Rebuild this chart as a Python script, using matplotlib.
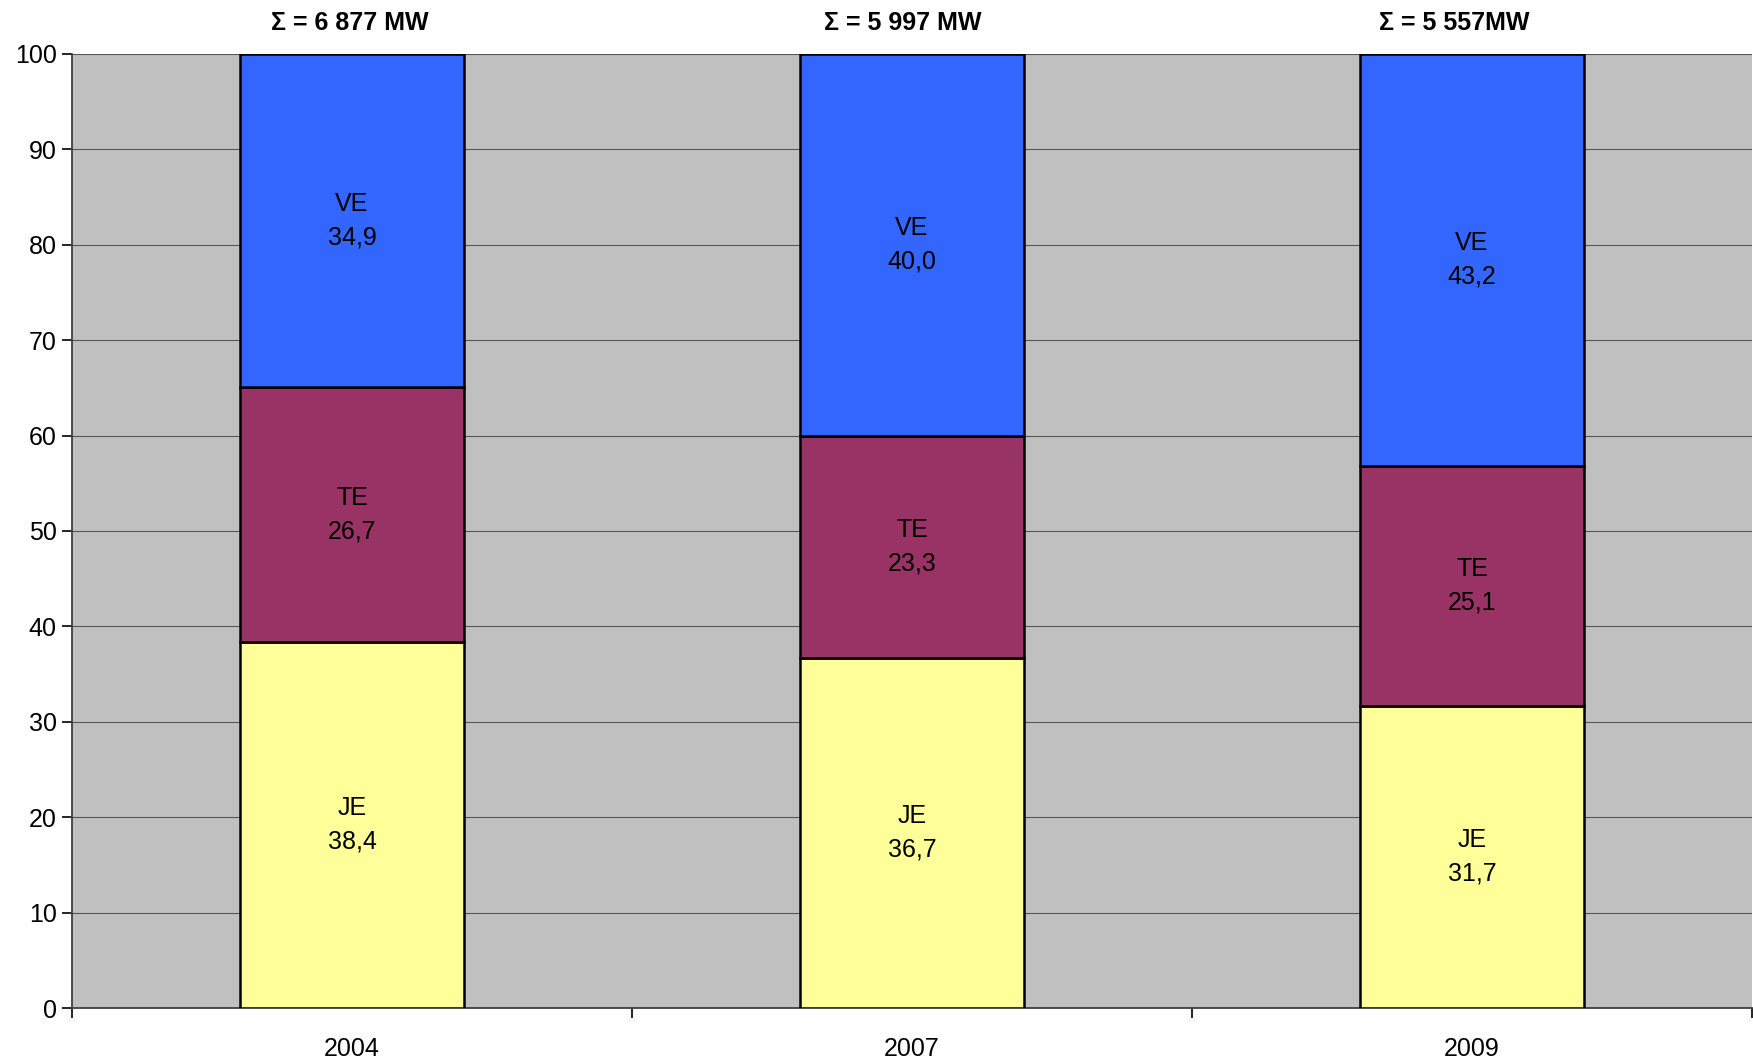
import numpy as np
import matplotlib.pyplot as plt

plt.rcParams['font.family'] = ['Liberation Sans', 'DejaVu Sans']

# shares of installed capacity, %
years = ['2004', '2007', '2009']
je = [38.4, 36.7, 31.7]
te = [26.7, 23.3, 25.1]
ve = [34.9, 40.0, 43.2]
totals = ['Σ = 6 877 MW', 'Σ = 5 997 MW', 'Σ = 5 557MW']

series = [('JE', je, '#FFFF99'), ('TE', te, '#993366'), ('VE', ve, '#3366FF')]

fig = plt.figure(figsize=(17.53, 10.61), dpi=100)
ax = fig.add_axes([72 / 1753, 53 / 1061, 1680 / 1753, 954 / 1061])
ax.set_facecolor('#C0C0C0')

x = np.arange(len(years)) + 0.5
bottom = np.zeros(len(years))
for name, vals, col in series:
    vals = np.array(vals)
    ax.bar(x, vals, 0.4, bottom=bottom, color=col, edgecolor='black',
           linewidth=1.8, zorder=3)
    for xi, b, v in zip(x, bottom, vals):
        ax.text(xi, b + v / 2, '%s\n%s' % (name, ('%.1f' % v).replace('.', ',')),
                ha='center', va='center', fontsize=18, linespacing=1.5, zorder=4)
    bottom += vals

# totals sit a little left of the bar centres
shifts = [-1.5, -6.5, -13]
for xi, t, dx in zip(x, totals, shifts):
    ax.annotate(t, (xi, 1.0), xycoords=('data', 'axes fraction'),
                xytext=(dx, 14), textcoords='offset points',
                ha='center', va='bottom', fontsize=18, fontweight='bold')

ax.set_xlim(0, 3)
ax.set_ylim(0, 100)
ax.set_yticks(range(0, 101, 10))
ax.yaxis.grid(True, color='#555555', linewidth=0.8, zorder=0)
ax.set_axisbelow(True)

ax.set_xticks([0, 1, 2, 3])
ax.set_xticklabels([])
ax.set_xticks(x, minor=True)
ax.set_xticklabels(years, minor=True)
ax.tick_params(axis='x', which='minor', length=0, pad=21, labelsize=18)
ax.tick_params(axis='x', which='major', length=7, width=1.2, direction='out')
ax.tick_params(axis='y', length=7, width=1.2, labelsize=18, pad=4)

for s in ['top', 'right']:
    ax.spines[s].set_visible(False)
ax.spines['left'].set_color('#404040')
ax.spines['bottom'].set_color('#404040')
ax.spines['left'].set_linewidth(1.3)
ax.spines['bottom'].set_linewidth(1.3)

fig.savefig('out.png', dpi=100)
